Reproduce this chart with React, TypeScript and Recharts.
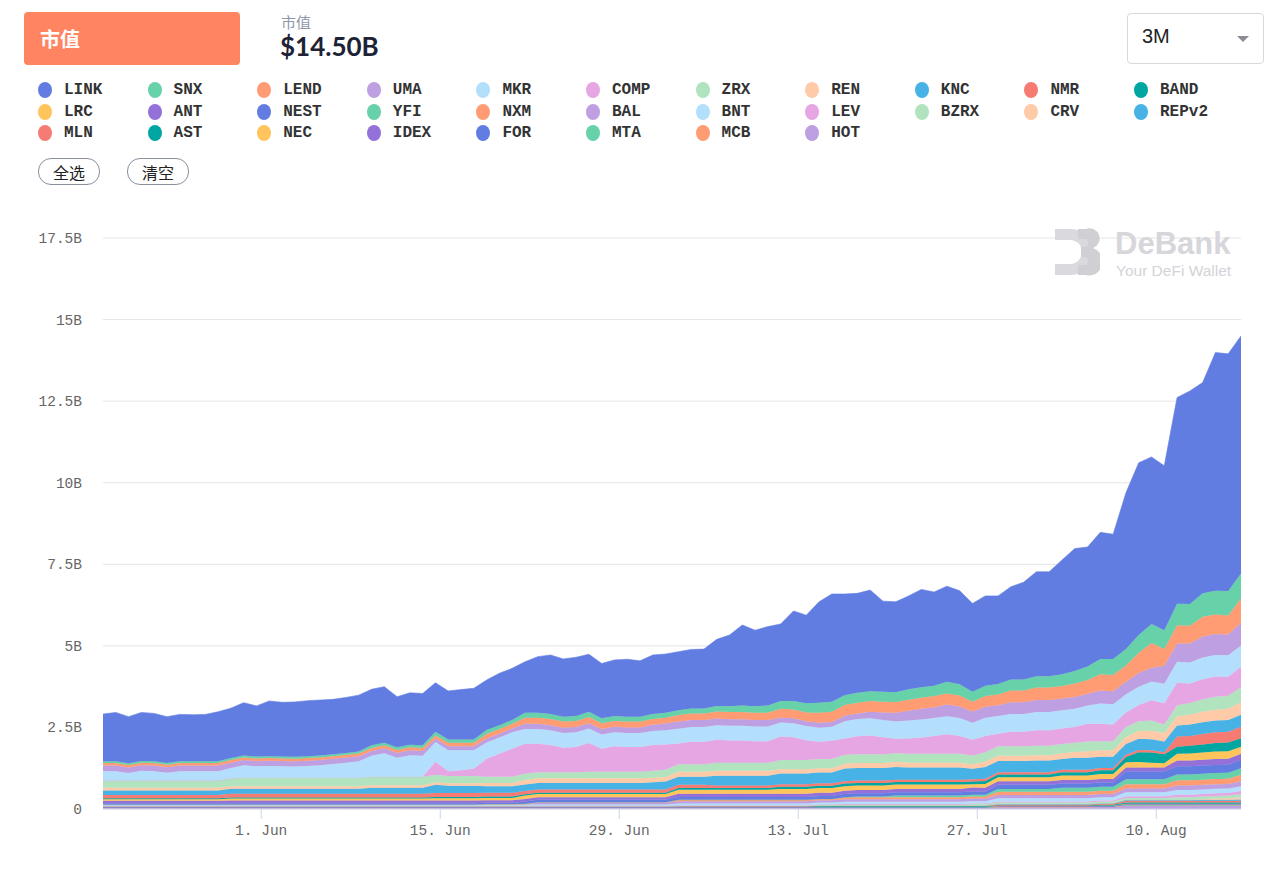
import React from 'react';
import { AreaChart, Area, XAxis, YAxis, CartesianGrid } from 'recharts';

const MONO = '"Liberation Mono", "Courier New", monospace';
const CJK = '"Noto Sans CJK SC", "Noto Sans", sans-serif';
const SANS = '"Liberation Sans", Arial, sans-serif';

const NAMES = ['LINK', 'SNX', 'LEND', 'UMA', 'MKR', 'COMP', 'ZRX', 'REN', 'KNC', 'NMR', 'BAND',
	'LRC', 'ANT', 'NEST', 'YFI', 'NXM', 'BAL', 'BNT', 'LEV', 'BZRX', 'CRV', 'REPv2',
	'MLN', 'AST', 'NEC', 'IDEX', 'FOR', 'MTA', 'MCB', 'HOT'];

const PALETTE = ['#627DE1', '#67D1A9', '#FF9C74', '#BE9FE1', '#B3DFFC', '#E6A5E3', '#B1E3BF',
	'#FFCAA8', '#47B2E5', '#F67B72', '#00A6A2', '#FFC55C', '#9371D8'];

// market cap, billions USD, one value per day
const link = [1.45, 1.50, 1.43, 1.49, 1.47, 1.42, 1.44, 1.43, 1.44, 1.52,
	1.53, 1.62, 1.55, 1.69, 1.66, 1.68, 1.70, 1.70, 1.68, 1.70,
	1.73, 1.72, 1.72, 1.55, 1.59, 1.59, 1.50, 1.49, 1.53, 1.57,
	1.53, 1.59, 1.58, 1.56, 1.72, 1.81, 1.77, 1.80, 1.76, 1.68,
	1.72, 1.76, 1.71, 1.81, 1.80, 1.79, 1.81, 1.82, 2.04, 2.18,
	2.47, 2.33, 2.42, 2.36, 2.76, 2.70, 3.09, 3.30, 3.10, 3.05,
	3.10, 2.78, 2.77, 2.86, 3.00, 2.87, 2.93, 2.87, 2.71, 2.75,
	2.70, 2.84, 2.98, 3.20, 3.20, 3.50, 3.75, 3.66, 3.88, 3.82,
	4.79, 5.28, 5.12, 5.04, 6.32, 6.53, 6.46, 7.30, 7.27, 7.28];
const snx = [0.05, 0.05, 0.05, 0.05, 0.05, 0.05, 0.05, 0.05, 0.05, 0.05,
	0.06, 0.06, 0.06, 0.06, 0.06, 0.06, 0.06, 0.06, 0.06, 0.06,
	0.06, 0.08, 0.08, 0.08, 0.08, 0.08, 0.12, 0.10, 0.10, 0.10,
	0.12, 0.12, 0.12, 0.15, 0.15, 0.15, 0.15, 0.15, 0.16, 0.15,
	0.15, 0.15, 0.15, 0.15, 0.15, 0.15, 0.15, 0.15, 0.17, 0.18,
	0.20, 0.20, 0.22, 0.24, 0.26, 0.28, 0.31, 0.31, 0.30, 0.30,
	0.30, 0.30, 0.30, 0.32, 0.32, 0.32, 0.36, 0.34, 0.30, 0.32,
	0.32, 0.34, 0.34, 0.35, 0.35, 0.36, 0.38, 0.42, 0.47, 0.49,
	0.50, 0.54, 0.58, 0.58, 0.66, 0.66, 0.72, 0.73, 0.75, 0.77];
const lend = [0.08, 0.08, 0.08, 0.08, 0.08, 0.08, 0.08, 0.08, 0.08, 0.08,
	0.08, 0.08, 0.08, 0.08, 0.08, 0.08, 0.08, 0.08, 0.08, 0.08,
	0.08, 0.09, 0.09, 0.09, 0.09, 0.09, 0.10, 0.11, 0.11, 0.11,
	0.14, 0.14, 0.14, 0.19, 0.19, 0.19, 0.19, 0.19, 0.19, 0.18,
	0.18, 0.18, 0.18, 0.18, 0.18, 0.20, 0.20, 0.20, 0.22, 0.22,
	0.22, 0.22, 0.22, 0.27, 0.27, 0.27, 0.31, 0.31, 0.33, 0.33,
	0.33, 0.33, 0.33, 0.34, 0.34, 0.34, 0.34, 0.34, 0.30, 0.33,
	0.33, 0.36, 0.36, 0.38, 0.38, 0.38, 0.42, 0.42, 0.50, 0.50,
	0.50, 0.62, 0.76, 0.51, 0.56, 0.55, 0.60, 0.60, 0.58, 0.74];
const uma = [0.17, 0.17, 0.17, 0.17, 0.17, 0.17, 0.17, 0.17, 0.17, 0.17,
	0.16, 0.16, 0.16, 0.16, 0.16, 0.16, 0.16, 0.16, 0.16, 0.16,
	0.16, 0.15, 0.15, 0.15, 0.15, 0.15, 0.10, 0.12, 0.12, 0.12,
	0.12, 0.12, 0.12, 0.16, 0.16, 0.16, 0.16, 0.16, 0.16, 0.17,
	0.17, 0.17, 0.17, 0.19, 0.21, 0.22, 0.22, 0.22, 0.20, 0.20,
	0.20, 0.20, 0.20, 0.15, 0.15, 0.15, 0.15, 0.15, 0.17, 0.17,
	0.20, 0.23, 0.27, 0.30, 0.33, 0.33, 0.36, 0.35, 0.35, 0.33,
	0.33, 0.36, 0.36, 0.37, 0.37, 0.36, 0.36, 0.36, 0.40, 0.40,
	0.38, 0.42, 0.42, 0.55, 0.56, 0.58, 0.65, 0.64, 0.64, 0.70];
const mkr = [0.29, 0.29, 0.23, 0.30, 0.29, 0.24, 0.29, 0.29, 0.29, 0.29,
	0.32, 0.38, 0.35, 0.36, 0.35, 0.34, 0.36, 0.38, 0.42, 0.46,
	0.50, 0.64, 0.72, 0.58, 0.66, 0.64, 0.60, 0.64, 0.61, 0.57,
	0.50, 0.50, 0.50, 0.45, 0.45, 0.45, 0.45, 0.45, 0.45, 0.43,
	0.43, 0.43, 0.43, 0.43, 0.43, 0.45, 0.45, 0.45, 0.45, 0.45,
	0.45, 0.45, 0.45, 0.43, 0.43, 0.43, 0.43, 0.43, 0.53, 0.53,
	0.53, 0.53, 0.53, 0.55, 0.55, 0.55, 0.55, 0.55, 0.52, 0.56,
	0.54, 0.54, 0.54, 0.56, 0.56, 0.56, 0.56, 0.56, 0.62, 0.62,
	0.56, 0.56, 0.58, 0.60, 0.64, 0.64, 0.66, 0.66, 0.66, 0.65];
const comp = [0, 0, 0, 0, 0, 0, 0, 0, 0, 0,
	0, 0, 0, 0, 0, 0, 0, 0, 0, 0,
	0, 0, 0, 0, 0, 0, 0.40, 0.15, 0.18, 0.22,
	0.55, 0.70, 0.86, 0.92, 0.87, 0.83, 0.75, 0.77, 0.88, 0.71,
	0.78, 0.76, 0.76, 0.79, 0.78, 0.64, 0.69, 0.69, 0.70, 0.68,
	0.68, 0.66, 0.66, 0.72, 0.70, 0.61, 0.53, 0.56, 0.50, 0.55,
	0.57, 0.52, 0.44, 0.47, 0.50, 0.55, 0.60, 0.55, 0.48, 0.50,
	0.39, 0.45, 0.45, 0.47, 0.47, 0.48, 0.48, 0.54, 0.53, 0.51,
	0.45, 0.50, 0.62, 0.65, 0.69, 0.60, 0.62, 0.62, 0.58, 0.63];
const zrx = [0.22, 0.22, 0.22, 0.22, 0.22, 0.22, 0.22, 0.22, 0.22, 0.22,
	0.24, 0.26, 0.26, 0.26, 0.26, 0.26, 0.26, 0.26, 0.26, 0.26,
	0.26, 0.26, 0.26, 0.26, 0.26, 0.26, 0.23, 0.22, 0.22, 0.22,
	0.19, 0.19, 0.19, 0.19, 0.19, 0.19, 0.19, 0.19, 0.20, 0.20,
	0.20, 0.20, 0.20, 0.21, 0.22, 0.23, 0.23, 0.23, 0.25, 0.25,
	0.25, 0.25, 0.25, 0.28, 0.28, 0.28, 0.28, 0.28, 0.27, 0.27,
	0.27, 0.27, 0.27, 0.27, 0.27, 0.27, 0.27, 0.27, 0.27, 0.29,
	0.29, 0.29, 0.29, 0.29, 0.29, 0.28, 0.28, 0.30, 0.28, 0.28,
	0.30, 0.30, 0.31, 0.26, 0.34, 0.36, 0.38, 0.40, 0.40, 0.46];
const ren = [0.08, 0.08, 0.08, 0.08, 0.08, 0.08, 0.08, 0.08, 0.08, 0.08,
	0.08, 0.08, 0.08, 0.08, 0.08, 0.08, 0.08, 0.08, 0.08, 0.08,
	0.08, 0.08, 0.08, 0.08, 0.08, 0.08, 0.08, 0.08, 0.08, 0.08,
	0.10, 0.10, 0.10, 0.14, 0.14, 0.14, 0.14, 0.14, 0.14, 0.14,
	0.14, 0.14, 0.14, 0.14, 0.14, 0.15, 0.15, 0.15, 0.15, 0.15,
	0.15, 0.15, 0.15, 0.13, 0.13, 0.13, 0.13, 0.13, 0.15, 0.15,
	0.15, 0.15, 0.15, 0.15, 0.15, 0.15, 0.15, 0.15, 0.14, 0.16,
	0.16, 0.16, 0.16, 0.16, 0.16, 0.18, 0.18, 0.20, 0.20, 0.20,
	0.22, 0.24, 0.26, 0.26, 0.28, 0.30, 0.32, 0.33, 0.34, 0.38];
const knc = [0.14, 0.14, 0.14, 0.14, 0.14, 0.14, 0.14, 0.14, 0.14, 0.14,
	0.15, 0.15, 0.15, 0.15, 0.15, 0.15, 0.15, 0.15, 0.15, 0.15,
	0.15, 0.18, 0.18, 0.18, 0.18, 0.18, 0.25, 0.22, 0.22, 0.22,
	0.20, 0.20, 0.20, 0.20, 0.20, 0.20, 0.20, 0.20, 0.20, 0.20,
	0.20, 0.20, 0.20, 0.22, 0.24, 0.25, 0.25, 0.25, 0.30, 0.30,
	0.30, 0.30, 0.30, 0.33, 0.33, 0.33, 0.33, 0.33, 0.39, 0.39,
	0.39, 0.39, 0.39, 0.37, 0.37, 0.37, 0.37, 0.37, 0.32, 0.36,
	0.34, 0.34, 0.34, 0.36, 0.36, 0.33, 0.37, 0.37, 0.34, 0.34,
	0.33, 0.34, 0.34, 0.33, 0.34, 0.35, 0.36, 0.36, 0.36, 0.37];
const nmr = [0.10, 0.10, 0.10, 0.10, 0.10, 0.10, 0.10, 0.10, 0.10, 0.10,
	0.12, 0.12, 0.12, 0.12, 0.12, 0.12, 0.12, 0.12, 0.12, 0.12,
	0.12, 0.12, 0.12, 0.12, 0.12, 0.12, 0.12, 0.12, 0.12, 0.12,
	0.12, 0.12, 0.12, 0.10, 0.10, 0.10, 0.10, 0.10, 0.10, 0.10,
	0.10, 0.10, 0.10, 0.10, 0.10, 0.10, 0.10, 0.10, 0.08, 0.08,
	0.08, 0.08, 0.08, 0.08, 0.08, 0.08, 0.08, 0.08, 0.07, 0.07,
	0.07, 0.07, 0.07, 0.07, 0.07, 0.07, 0.07, 0.07, 0.07, 0.07,
	0.07, 0.07, 0.07, 0.07, 0.07, 0.07, 0.07, 0.07, 0.07, 0.07,
	0.07, 0.07, 0.07, 0.06, 0.31, 0.30, 0.32, 0.33, 0.33, 0.35];
const band = [0.03, 0.03, 0.03, 0.03, 0.03, 0.03, 0.03, 0.03, 0.03, 0.03,
	0.03, 0.03, 0.03, 0.03, 0.03, 0.03, 0.03, 0.03, 0.03, 0.03,
	0.03, 0.03, 0.03, 0.03, 0.03, 0.03, 0.04, 0.04, 0.04, 0.04,
	0.04, 0.04, 0.04, 0.04, 0.04, 0.04, 0.04, 0.04, 0.04, 0.04,
	0.04, 0.04, 0.04, 0.04, 0.04, 0.05, 0.05, 0.05, 0.05, 0.05,
	0.05, 0.05, 0.05, 0.07, 0.07, 0.07, 0.07, 0.07, 0.08, 0.08,
	0.08, 0.08, 0.08, 0.08, 0.08, 0.08, 0.08, 0.08, 0.08, 0.09,
	0.09, 0.09, 0.09, 0.09, 0.09, 0.10, 0.10, 0.10, 0.12, 0.12,
	0.16, 0.30, 0.31, 0.28, 0.22, 0.24, 0.25, 0.26, 0.27, 0.26];
const lrc = [0.05, 0.05, 0.05, 0.05, 0.05, 0.05, 0.05, 0.05, 0.05, 0.05,
	0.06, 0.06, 0.06, 0.06, 0.06, 0.06, 0.06, 0.06, 0.06, 0.06,
	0.06, 0.06, 0.06, 0.06, 0.06, 0.06, 0.07, 0.07, 0.07, 0.07,
	0.07, 0.07, 0.07, 0.10, 0.10, 0.10, 0.10, 0.10, 0.10, 0.10,
	0.10, 0.10, 0.10, 0.10, 0.10, 0.12, 0.12, 0.12, 0.12, 0.12,
	0.12, 0.12, 0.12, 0.14, 0.14, 0.14, 0.14, 0.14, 0.14, 0.14,
	0.14, 0.14, 0.14, 0.14, 0.14, 0.14, 0.14, 0.14, 0.10, 0.12,
	0.12, 0.12, 0.12, 0.12, 0.12, 0.14, 0.14, 0.14, 0.15, 0.15,
	0.16, 0.17, 0.15, 0.13, 0.20, 0.21, 0.22, 0.23, 0.23, 0.22];
const ant = [0.07, 0.07, 0.07, 0.07, 0.07, 0.07, 0.07, 0.07, 0.07, 0.07,
	0.08, 0.08, 0.08, 0.08, 0.08, 0.08, 0.08, 0.08, 0.08, 0.08,
	0.08, 0.08, 0.08, 0.08, 0.08, 0.08, 0.08, 0.08, 0.08, 0.08,
	0.08, 0.08, 0.08, 0.08, 0.08, 0.08, 0.08, 0.08, 0.08, 0.08,
	0.08, 0.08, 0.08, 0.08, 0.08, 0.10, 0.10, 0.10, 0.10, 0.10,
	0.10, 0.10, 0.10, 0.10, 0.10, 0.10, 0.10, 0.10, 0.10, 0.10,
	0.10, 0.10, 0.10, 0.10, 0.10, 0.10, 0.10, 0.10, 0.12, 0.11,
	0.11, 0.11, 0.11, 0.11, 0.11, 0.11, 0.11, 0.11, 0.11, 0.11,
	0.12, 0.12, 0.12, 0.12, 0.18, 0.18, 0.18, 0.18, 0.18, 0.18];
const nest = [0.04, 0.04, 0.04, 0.04, 0.04, 0.04, 0.04, 0.04, 0.04, 0.04,
	0.04, 0.04, 0.04, 0.04, 0.04, 0.04, 0.04, 0.04, 0.04, 0.04,
	0.04, 0.04, 0.04, 0.04, 0.04, 0.04, 0.04, 0.04, 0.04, 0.04,
	0.04, 0.04, 0.04, 0.07, 0.07, 0.07, 0.07, 0.07, 0.07, 0.07,
	0.07, 0.07, 0.07, 0.07, 0.07, 0.09, 0.09, 0.09, 0.09, 0.09,
	0.09, 0.09, 0.09, 0.09, 0.09, 0.09, 0.09, 0.09, 0.10, 0.10,
	0.10, 0.10, 0.10, 0.10, 0.10, 0.10, 0.10, 0.10, 0.10, 0.10,
	0.13, 0.13, 0.13, 0.13, 0.13, 0.13, 0.13, 0.13, 0.13, 0.13,
	0.24, 0.24, 0.24, 0.24, 0.25, 0.25, 0.25, 0.25, 0.25, 0.26];
const yfi = [0, 0, 0, 0, 0, 0, 0, 0, 0, 0,
	0, 0, 0, 0, 0, 0, 0, 0, 0, 0,
	0, 0, 0, 0, 0, 0, 0, 0, 0, 0,
	0, 0, 0, 0, 0, 0, 0, 0, 0, 0,
	0, 0, 0, 0, 0, 0, 0, 0, 0, 0,
	0, 0, 0, 0, 0, 0, 0, 0, 0, 0.02,
	0.02, 0.02, 0.05, 0.05, 0.05, 0.05, 0.05, 0.05, 0.06, 0.06,
	0.08, 0.08, 0.08, 0.08, 0.08, 0.12, 0.12, 0.12, 0.12, 0.12,
	0.15, 0.15, 0.15, 0.15, 0.18, 0.18, 0.18, 0.18, 0.18, 0.20];
const nxm = [0.01, 0.01, 0.01, 0.01, 0.01, 0.01, 0.01, 0.01, 0.01, 0.01,
	0.01, 0.01, 0.01, 0.01, 0.01, 0.01, 0.01, 0.01, 0.01, 0.01,
	0.01, 0.01, 0.01, 0.01, 0.01, 0.01, 0.01, 0.01, 0.01, 0.01,
	0.01, 0.01, 0.01, 0.02, 0.02, 0.02, 0.02, 0.02, 0.02, 0.02,
	0.02, 0.02, 0.02, 0.02, 0.02, 0.04, 0.04, 0.04, 0.04, 0.04,
	0.04, 0.04, 0.04, 0.04, 0.04, 0.04, 0.04, 0.04, 0.06, 0.06,
	0.06, 0.06, 0.06, 0.06, 0.06, 0.06, 0.06, 0.06, 0.06, 0.06,
	0.10, 0.10, 0.10, 0.10, 0.10, 0.10, 0.10, 0.10, 0.10, 0.10,
	0.13, 0.13, 0.13, 0.13, 0.16, 0.16, 0.16, 0.16, 0.16, 0.20];
const bal = [0, 0, 0, 0, 0, 0, 0, 0, 0, 0,
	0, 0, 0, 0, 0, 0, 0, 0, 0, 0,
	0, 0, 0, 0, 0, 0, 0, 0, 0, 0,
	0, 0, 0, 0, 0.05, 0.05, 0.05, 0.05, 0.05, 0.05,
	0.05, 0.05, 0.05, 0.05, 0.05, 0.07, 0.07, 0.07, 0.07, 0.07,
	0.07, 0.07, 0.07, 0.07, 0.07, 0.07, 0.07, 0.07, 0.08, 0.08,
	0.08, 0.08, 0.08, 0.08, 0.08, 0.08, 0.08, 0.08, 0.08, 0.08,
	0.10, 0.10, 0.10, 0.10, 0.10, 0.10, 0.10, 0.10, 0.10, 0.10,
	0.12, 0.12, 0.12, 0.12, 0.14, 0.14, 0.14, 0.14, 0.14, 0.15];
const bnt = [0.03, 0.03, 0.03, 0.03, 0.03, 0.03, 0.03, 0.03, 0.03, 0.03,
	0.03, 0.03, 0.03, 0.03, 0.03, 0.03, 0.03, 0.03, 0.03, 0.03,
	0.03, 0.03, 0.03, 0.03, 0.03, 0.03, 0.03, 0.03, 0.03, 0.03,
	0.04, 0.04, 0.04, 0.04, 0.04, 0.04, 0.04, 0.04, 0.04, 0.04,
	0.04, 0.04, 0.04, 0.04, 0.04, 0.06, 0.06, 0.06, 0.06, 0.06,
	0.06, 0.06, 0.06, 0.06, 0.06, 0.06, 0.06, 0.06, 0.07, 0.07,
	0.07, 0.07, 0.07, 0.07, 0.07, 0.07, 0.07, 0.07, 0.07, 0.07,
	0.10, 0.10, 0.10, 0.10, 0.10, 0.10, 0.10, 0.10, 0.10, 0.10,
	0.12, 0.12, 0.12, 0.12, 0.14, 0.14, 0.14, 0.14, 0.14, 0.15];
const lev = [0.01, 0.01, 0.01, 0.01, 0.01, 0.01, 0.01, 0.01, 0.01, 0.01,
	0.01, 0.01, 0.01, 0.01, 0.01, 0.01, 0.01, 0.01, 0.01, 0.01,
	0.01, 0.01, 0.01, 0.01, 0.01, 0.01, 0.01, 0.01, 0.01, 0.01,
	0.01, 0.01, 0.01, 0.01, 0.01, 0.01, 0.01, 0.01, 0.01, 0.01,
	0.01, 0.01, 0.01, 0.01, 0.01, 0.01, 0.01, 0.01, 0.01, 0.01,
	0.01, 0.01, 0.01, 0.01, 0.01, 0.01, 0.01, 0.01, 0.02, 0.02,
	0.02, 0.02, 0.02, 0.02, 0.02, 0.02, 0.02, 0.02, 0.02, 0.02,
	0.03, 0.03, 0.03, 0.03, 0.03, 0.03, 0.03, 0.03, 0.03, 0.03,
	0.05, 0.05, 0.05, 0.05, 0.08, 0.08, 0.08, 0.08, 0.08, 0.10];
const bzrx = [0, 0, 0, 0, 0, 0, 0, 0, 0, 0,
	0, 0, 0, 0, 0, 0, 0, 0, 0, 0,
	0, 0, 0, 0, 0, 0, 0, 0, 0, 0,
	0, 0, 0, 0, 0, 0, 0, 0, 0, 0,
	0, 0, 0, 0, 0, 0, 0, 0, 0, 0,
	0, 0, 0, 0, 0, 0, 0.02, 0.02, 0.02, 0.02,
	0.02, 0.02, 0.02, 0.02, 0.02, 0.02, 0.02, 0.02, 0.04, 0.04,
	0.05, 0.05, 0.05, 0.05, 0.05, 0.05, 0.05, 0.05, 0.05, 0.05,
	0.06, 0.06, 0.06, 0.06, 0.08, 0.08, 0.08, 0.08, 0.08, 0.10];
const crv = [0, 0, 0, 0, 0, 0, 0, 0, 0, 0,
	0, 0, 0, 0, 0, 0, 0, 0, 0, 0,
	0, 0, 0, 0, 0, 0, 0, 0, 0, 0,
	0, 0, 0, 0, 0, 0, 0, 0, 0, 0,
	0, 0, 0, 0, 0, 0, 0, 0, 0, 0,
	0, 0, 0, 0, 0, 0, 0, 0, 0, 0,
	0, 0, 0, 0, 0, 0, 0, 0, 0, 0,
	0, 0, 0, 0, 0, 0, 0, 0, 0, 0,
	0, 0, 0, 0, 0, 0, 0.02, 0.04, 0.05, 0.06];
const repv2 = [0, 0, 0, 0, 0, 0, 0, 0, 0, 0,
	0, 0, 0, 0, 0, 0, 0, 0, 0, 0,
	0, 0, 0, 0, 0, 0, 0, 0, 0, 0,
	0, 0, 0, 0, 0, 0, 0, 0, 0, 0,
	0, 0, 0, 0, 0, 0, 0, 0, 0, 0,
	0, 0, 0, 0, 0, 0, 0, 0, 0, 0,
	0, 0, 0, 0, 0, 0, 0, 0, 0, 0,
	0.02, 0.02, 0.02, 0.02, 0.02, 0.02, 0.02, 0.02, 0.02, 0.02,
	0.03, 0.03, 0.03, 0.03, 0.03, 0.03, 0.03, 0.03, 0.03, 0.04];
const mln = [0.01, 0.01, 0.01, 0.01, 0.01, 0.01, 0.01, 0.01, 0.01, 0.01,
	0.01, 0.01, 0.01, 0.01, 0.01, 0.01, 0.01, 0.01, 0.01, 0.01,
	0.01, 0.01, 0.01, 0.01, 0.01, 0.01, 0.01, 0.01, 0.01, 0.01,
	0.01, 0.01, 0.01, 0.01, 0.01, 0.01, 0.01, 0.01, 0.01, 0.01,
	0.01, 0.01, 0.01, 0.01, 0.01, 0.02, 0.02, 0.02, 0.02, 0.02,
	0.02, 0.02, 0.02, 0.02, 0.02, 0.02, 0.02, 0.02, 0.02, 0.02,
	0.02, 0.02, 0.02, 0.02, 0.02, 0.02, 0.02, 0.02, 0.02, 0.02,
	0.02, 0.02, 0.02, 0.02, 0.02, 0.02, 0.02, 0.02, 0.03, 0.03,
	0.05, 0.05, 0.05, 0.05, 0.05, 0.05, 0.05, 0.05, 0.05, 0.05];
const ast = [0.01, 0.01, 0.01, 0.01, 0.01, 0.01, 0.01, 0.01, 0.01, 0.01,
	0.01, 0.01, 0.01, 0.01, 0.01, 0.01, 0.01, 0.01, 0.01, 0.01,
	0.01, 0.01, 0.01, 0.01, 0.01, 0.01, 0.01, 0.01, 0.01, 0.01,
	0.01, 0.01, 0.01, 0.01, 0.01, 0.01, 0.01, 0.01, 0.01, 0.01,
	0.01, 0.01, 0.01, 0.01, 0.01, 0.01, 0.01, 0.01, 0.01, 0.01,
	0.01, 0.01, 0.01, 0.01, 0.01, 0.01, 0.01, 0.01, 0.01, 0.01,
	0.01, 0.01, 0.01, 0.01, 0.01, 0.01, 0.01, 0.01, 0.01, 0.01,
	0.01, 0.01, 0.01, 0.01, 0.01, 0.01, 0.01, 0.01, 0.02, 0.02,
	0.04, 0.04, 0.04, 0.04, 0.04, 0.04, 0.04, 0.04, 0.04, 0.04];
const nec = [0.01, 0.01, 0.01, 0.01, 0.01, 0.01, 0.01, 0.01, 0.01, 0.01,
	0.01, 0.01, 0.01, 0.01, 0.01, 0.01, 0.01, 0.01, 0.01, 0.01,
	0.01, 0.01, 0.01, 0.01, 0.01, 0.01, 0.01, 0.01, 0.01, 0.01,
	0.01, 0.01, 0.01, 0.01, 0.01, 0.01, 0.01, 0.01, 0.01, 0.01,
	0.01, 0.01, 0.01, 0.01, 0.01, 0.01, 0.01, 0.01, 0.01, 0.01,
	0.01, 0.01, 0.01, 0.01, 0.01, 0.01, 0.01, 0.01, 0.01, 0.01,
	0.01, 0.01, 0.01, 0.01, 0.01, 0.01, 0.01, 0.01, 0.01, 0.01,
	0.01, 0.01, 0.01, 0.01, 0.01, 0.01, 0.01, 0.01, 0.01, 0.01,
	0.01, 0.01, 0.01, 0.01, 0.01, 0.01, 0.01, 0.01, 0.01, 0.01];
const idex = [0.01, 0.01, 0.01, 0.01, 0.01, 0.01, 0.01, 0.01, 0.01, 0.01,
	0.01, 0.01, 0.01, 0.01, 0.01, 0.01, 0.01, 0.01, 0.01, 0.01,
	0.01, 0.01, 0.01, 0.01, 0.01, 0.01, 0.01, 0.01, 0.01, 0.01,
	0.01, 0.01, 0.01, 0.01, 0.01, 0.01, 0.01, 0.01, 0.01, 0.01,
	0.01, 0.01, 0.01, 0.01, 0.01, 0.01, 0.01, 0.01, 0.01, 0.01,
	0.01, 0.01, 0.01, 0.01, 0.01, 0.01, 0.01, 0.01, 0.01, 0.01,
	0.01, 0.01, 0.01, 0.01, 0.01, 0.01, 0.01, 0.01, 0.01, 0.01,
	0.01, 0.01, 0.01, 0.01, 0.01, 0.01, 0.01, 0.01, 0.01, 0.01,
	0.01, 0.01, 0.01, 0.01, 0.01, 0.01, 0.01, 0.01, 0.01, 0.01];
const forT = [0.01, 0.01, 0.01, 0.01, 0.01, 0.01, 0.01, 0.01, 0.01, 0.01,
	0.01, 0.01, 0.01, 0.01, 0.01, 0.01, 0.01, 0.01, 0.01, 0.01,
	0.01, 0.01, 0.01, 0.01, 0.01, 0.01, 0.01, 0.01, 0.01, 0.01,
	0.01, 0.01, 0.01, 0.01, 0.01, 0.01, 0.01, 0.01, 0.01, 0.01,
	0.01, 0.01, 0.01, 0.01, 0.01, 0.01, 0.01, 0.01, 0.01, 0.01,
	0.01, 0.01, 0.01, 0.01, 0.01, 0.01, 0.01, 0.01, 0.01, 0.01,
	0.01, 0.01, 0.01, 0.01, 0.01, 0.01, 0.01, 0.01, 0.01, 0.01,
	0.01, 0.01, 0.01, 0.01, 0.01, 0.01, 0.01, 0.01, 0.01, 0.01,
	0.01, 0.01, 0.01, 0.01, 0.01, 0.01, 0.01, 0.01, 0.01, 0.01];
const mta = [0, 0, 0, 0, 0, 0, 0, 0, 0, 0,
	0, 0, 0, 0, 0, 0, 0, 0, 0, 0,
	0, 0, 0, 0, 0, 0, 0, 0, 0, 0,
	0, 0, 0, 0, 0, 0, 0, 0, 0, 0,
	0, 0, 0, 0, 0, 0, 0, 0, 0, 0,
	0, 0, 0, 0, 0, 0, 0.01, 0.01, 0.01, 0.01,
	0.01, 0.01, 0.01, 0.01, 0.01, 0.01, 0.01, 0.01, 0.01, 0.01,
	0.01, 0.01, 0.01, 0.01, 0.01, 0.01, 0.01, 0.01, 0.01, 0.01,
	0.02, 0.02, 0.02, 0.02, 0.02, 0.02, 0.02, 0.02, 0.02, 0.02];
const mcb = [0.01, 0.01, 0.01, 0.01, 0.01, 0.01, 0.01, 0.01, 0.01, 0.01,
	0.01, 0.01, 0.01, 0.01, 0.01, 0.01, 0.01, 0.01, 0.01, 0.01,
	0.01, 0.01, 0.01, 0.01, 0.01, 0.01, 0.01, 0.01, 0.01, 0.01,
	0.01, 0.01, 0.01, 0.01, 0.01, 0.01, 0.01, 0.01, 0.01, 0.01,
	0.01, 0.01, 0.01, 0.01, 0.01, 0.01, 0.01, 0.01, 0.01, 0.01,
	0.01, 0.01, 0.01, 0.01, 0.01, 0.01, 0.01, 0.01, 0.01, 0.01,
	0.01, 0.01, 0.01, 0.01, 0.01, 0.01, 0.01, 0.01, 0.01, 0.01,
	0.01, 0.01, 0.01, 0.01, 0.01, 0.01, 0.01, 0.01, 0.01, 0.01,
	0.01, 0.01, 0.01, 0.01, 0.01, 0.01, 0.01, 0.01, 0.01, 0.01];
const hot = [0.03, 0.03, 0.03, 0.03, 0.03, 0.03, 0.03, 0.03, 0.03, 0.03,
	0.03, 0.03, 0.03, 0.03, 0.03, 0.03, 0.03, 0.03, 0.03, 0.03,
	0.03, 0.03, 0.03, 0.03, 0.03, 0.03, 0.03, 0.03, 0.03, 0.03,
	0.03, 0.03, 0.03, 0.03, 0.03, 0.03, 0.03, 0.03, 0.03, 0.03,
	0.03, 0.03, 0.03, 0.03, 0.03, 0.03, 0.03, 0.03, 0.03, 0.03,
	0.03, 0.03, 0.03, 0.03, 0.03, 0.03, 0.03, 0.03, 0.03, 0.03,
	0.03, 0.03, 0.03, 0.03, 0.03, 0.03, 0.03, 0.03, 0.03, 0.03,
	0.05, 0.05, 0.05, 0.05, 0.05, 0.05, 0.05, 0.05, 0.06, 0.06,
	0.10, 0.10, 0.10, 0.10, 0.10, 0.10, 0.10, 0.10, 0.10, 0.10];

const VALUES: Record<string, number[]> = {
	LINK: link, SNX: snx, LEND: lend, UMA: uma, MKR: mkr, COMP: comp, ZRX: zrx, REN: ren,
	KNC: knc, NMR: nmr, BAND: band, LRC: lrc, ANT: ant, NEST: nest, YFI: yfi, NXM: nxm,
	BAL: bal, BNT: bnt, LEV: lev, BZRX: bzrx, CRV: crv, REPv2: repv2, MLN: mln, AST: ast,
	NEC: nec, IDEX: idex, FOR: forT, MTA: mta, MCB: mcb, HOT: hot,
};

const DAY = 86400000;
const START = Date.UTC(2020, 4, 19, 15);
const TIMES = link.map((_, i) => START + i * DAY);

const X_TICKS = [Date.UTC(2020, 5, 1), Date.UTC(2020, 5, 15), Date.UTC(2020, 5, 29),
	Date.UTC(2020, 6, 13), Date.UTC(2020, 6, 27), Date.UTC(2020, 7, 10)];
const X_LABELS = ['1. Jun', '15. Jun', '29. Jun', '13. Jul', '27. Jul', '10. Aug'];
const Y_TICKS = [0, 2.5, 5, 7.5, 10, 12.5, 15, 17.5];

const rows = TIMES.map((t, i) => {
	const row: any = { t };
	NAMES.forEach((n) => { row[n] = VALUES[n][i]; });
	return row;
});

const colorOf = (i: number) => PALETTE[i % PALETTE.length];

const XTick = (props: any) => {
	const { x, payload } = props;
	const idx = X_TICKS.indexOf(payload.value);
	return (
		<text x={x} y={835} textAnchor="middle" fill="#666" fontSize={14.5} fontFamily={MONO}>
			{X_LABELS[idx]}
		</text>
	);
};

const YTick = (props: any) => {
	const { y, payload } = props;
	const v = payload.value;
	return (
		<text x={82} y={y + 5} textAnchor="end" fill="#666" fontSize={14.5} fontFamily={MONO}>
			{v === 0 ? '0' : `${v}B`}
		</text>
	);
};

const Legend = () => {
	return (
		<>
			{NAMES.map((n, i) => {
				const row = Math.floor(i / 11);
				const col = i % 11;
				const left = 38 + col * 109.6;
				const top = 82 + row * 21.5;
				return (
					<div key={n} style={{ position: 'absolute', left, top, height: 16, display: 'flex', alignItems: 'center' }}>
						<div style={{ width: 14, height: 16, borderRadius: '50%', background: colorOf(i) }} />
						<span style={{ marginLeft: 12, fontFamily: MONO, fontWeight: 'bold', fontSize: 16, color: '#333', lineHeight: '16px' }}>{n}</span>
					</div>
				);
			})}
		</>
	);
};

const Pill = ({ left, label }: { left: number; label: string }) => (
	<div style={{
		position: 'absolute', left, top: 158, width: 60, height: 25, border: '1px solid #8a8f9c',
		borderRadius: 13, display: 'flex', alignItems: 'center', justifyContent: 'center',
		fontFamily: CJK, fontSize: 16, color: '#222',
	}}>{label}</div>
);

const Watermark = () => (
	<div style={{ position: 'absolute', left: 1054, top: 228, width: 190, height: 52, pointerEvents: 'none' }}>
		<svg width={46} height={48} style={{ position: 'absolute', left: 0, top: 0 }}>
			<path d="M1 1 H17 A22 23 0 0 1 17 47 H1 V36 H16 A12 12 0 0 0 16 12 H1 Z" fill="#dadade" />
			<path d="M24 1 H32 A10 10 0 0 1 39 20 A12 13 0 0 1 32 47 H24 V37 H31 A3 4 0 0 0 31 29 H27 V19 H31 A3 4 0 0 0 31 11 H24 Z" fill="#cfcfd4" />
		</svg>
		<div style={{ position: 'absolute', left: 61, top: 0, fontFamily: SANS, fontWeight: 700, fontSize: 31, color: '#d6d6db', lineHeight: '31px' }}>DeBank</div>
		<div style={{ position: 'absolute', left: 62, top: 35, fontFamily: SANS, fontSize: 15.5, color: '#d3d3d8', lineHeight: '16px' }}>Your DeFi Wallet</div>
	</div>
);

export default function App() {
	const order = NAMES.map((n, i) => ({ n, i })).reverse();
	return (
		<div style={{ position: 'relative', width: 1285, height: 878, background: '#fff', overflow: 'hidden' }}>
			<style>{'body{margin:0}'}</style>
			<div style={{ position: 'absolute', left: 0, top: 0 }}>
				<AreaChart width={1285} height={878} data={rows} margin={{ top: 238, right: 44, bottom: 0, left: 0 }}>
					<CartesianGrid horizontal vertical={false} stroke="#e6e6e6" />
					<XAxis dataKey="t" type="number" domain={['dataMin', 'dataMax']} ticks={X_TICKS} height={69}
						tick={XTick} tickSize={10} tickLine={{ stroke: '#ccd6eb' }} axisLine={{ stroke: '#ccd6eb' }} />
					<YAxis width={103} domain={[0, 17.5]} ticks={Y_TICKS} axisLine={false} tickLine={false} tick={YTick} />
					{order.map(({ n, i }) => (
						<Area key={n} type="linear" dataKey={n} stackId="1" stroke={colorOf(i)} strokeWidth={0.6}
							fill={colorOf(i)} fillOpacity={1} dot={false} activeDot={false} isAnimationActive={false} />
					))}
				</AreaChart>
			</div>
			<Watermark />
			<div style={{
				position: 'absolute', left: 24, top: 12, width: 216, height: 53, background: '#FF8461',
				borderRadius: 4, display: 'flex', alignItems: 'center',
			}}>
				<span style={{ marginLeft: 16, fontFamily: CJK, fontWeight: 700, fontSize: 20, color: '#fff' }}>市值</span>
			</div>
			<div style={{ position: 'absolute', left: 281, top: 11, fontFamily: CJK, fontSize: 15, color: '#8e96a8' }}>市值</div>
			<div style={{ position: 'absolute', left: 280, top: 30, fontFamily: 'Lato, sans-serif', fontWeight: 700, fontSize: 26, color: '#1e2235' }}>$14.50B</div>
			<div style={{
				position: 'absolute', left: 1127, top: 13, width: 137, height: 51, border: '1px solid #d9d9d9',
				borderRadius: 4, boxSizing: 'border-box',
			}}>
				<span style={{ position: 'absolute', left: 14, top: 11, fontFamily: SANS, fontSize: 20, color: '#222' }}>3M</span>
				<svg width={12} height={8} style={{ position: 'absolute', left: 109, top: 22 }}>
					<path d="M0 0 L12 0 L6 6 Z" fill="#8c8c96" />
				</svg>
			</div>
			<Legend />
			<Pill left={38} label="全选" />
			<Pill left={127} label="清空" />
		</div>
	);
}
